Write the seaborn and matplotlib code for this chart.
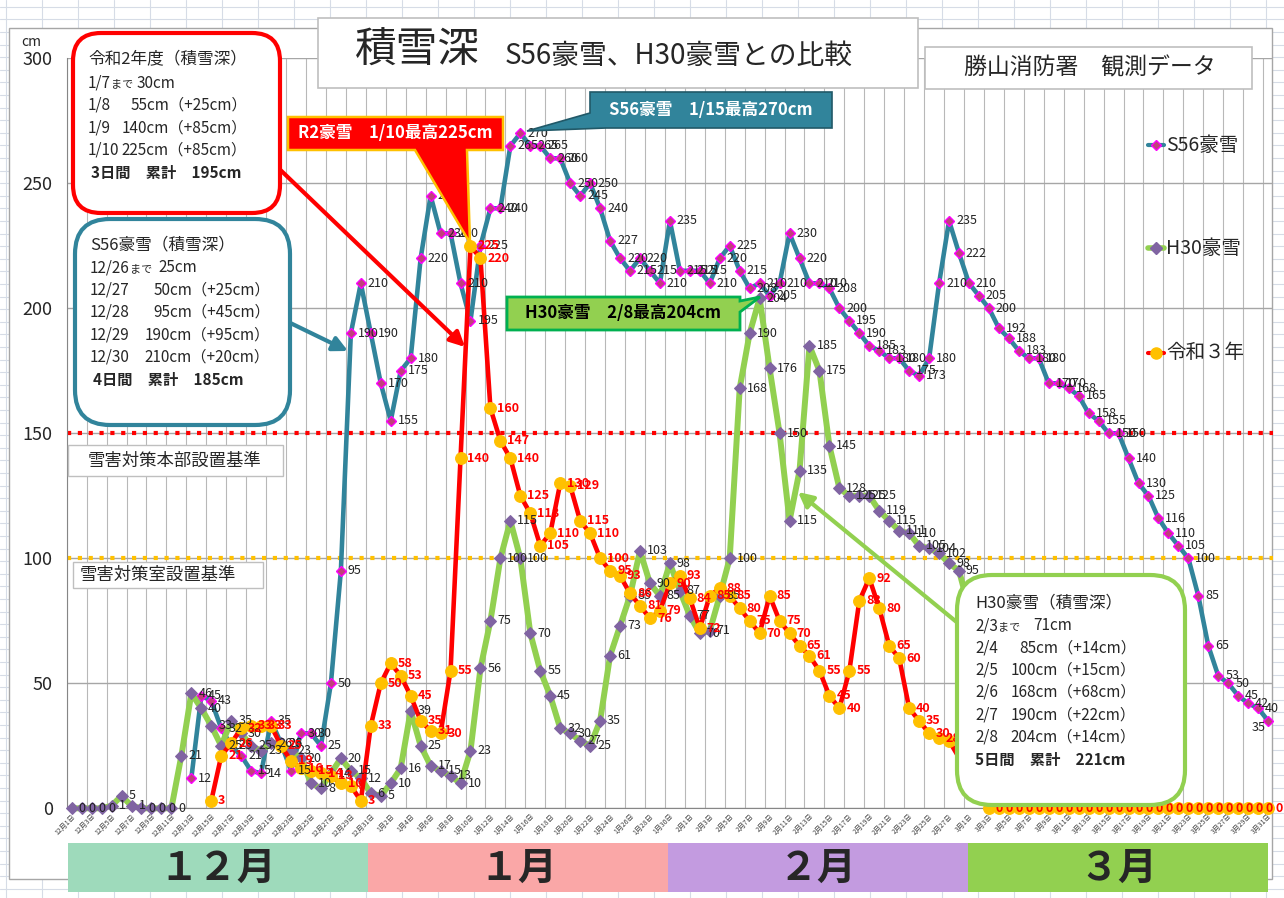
import numpy as np
import pandas as pd
import matplotlib
matplotlib.use("Agg")
import matplotlib.pyplot as plt
import seaborn as sns
from matplotlib.patches import Rectangle, FancyBboxPatch, Polygon

sns.set_style("white")
plt.rcParams['font.family'] = ['Noto Sans CJK JP', 'DejaVu Sans']

nan = np.nan

# ---------------- data ----------------
month_names = [12, 1, 2, 3]
month_days = [31, 31, 28, 31]

s56_dec = [nan] * 12 + [12, 45, 43, 32, 25, 21, 15, 14, 35, 26, 15, 30, 30, 25, 50, 95, 190, 210, 190]
s56_jan = [170, 155, 175, 180, 220, 245, 230, 230, 210, 195, 225, 240, 240, 265, 270, 265,
           265, 260, 260, 250, 245, 250, 240, 227, 220, 215, 220, 215, 210, 235, 215]
s56_feb = [215, 215, 210, 220, 225, 215, 208, 210, 205, 210, 230, 220, 210, 210, 208, 200,
           195, 190, 185, 183, 180, 180, 175, 173, 180, 210, 235, 222]
s56_mar = [210, 205, 200, 192, 188, 183, 180, 180, 170, 170, 168, 165, 158, 155, 150, 150,
           140, 130, 125, 116, 110, 105, 100, 85, 65, 53, 50, 45, 42, 40, 35]

h30_dec = [0, 0, 0, 0, 1, 5, 1, 0, 0, 0, 0, 21, 46, 40, 33, 25, 35, 30, 25, 23, 26, 26,
           23, 20, 10, 8, 14, 20, 15, 12, 6]
h30_jan = [5, 10, 16, 39, 25, 17, 15, 13, 10, 23, 56, 75, 100, 115, 100, 70, 55, 45, 32,
           30, 27, 25, 35, 61, 73, 85, 103, 90, 85, 98, 87]
h30_feb = [77, 70, 71, 85, 100, 168, 190, 204, 176, 150, 115, 135, 185, 175, 145, 128,
           125, 125, 125, 119, 115, 111, 110, 105, 104, 102, 98, 95]
h30_mar = [80] + [nan] * 30

r3_dec = [nan] * 14 + [3, 21, 26, 32, 33, 33, 33, 25, 19, 16, 15, 14, 13, 10, 9, 3, 33]
r3_jan = [50, 58, 53, 45, 35, 31, 30, 55, 140, 225, 220, 160, 147, 140, 125, 118, 105,
          110, 130, 129, 115, 110, 100, 95, 93, 86, 81, 76, 79, 90, 93]
r3_feb = [84, 72, 85, 88, 85, 80, 75, 70, 85, 75, 70, 65, 61, 55, 45, 40, 55, 83, 92, 80,
          65, 60, 40, 35, 30, 28, 27, nan]
r3_mar = [nan, nan] + [0] * 29

series_names = ["S56豪雪", "H30豪雪", "令和３年"]
band_labels = ["１２月", "１月", "２月", "３月"]
threshold_values = [150, 100]
threshold_labels = ["雪害対策本部設置基準", "雪害対策室設置基準"]

day_labels = []
for m, n in zip(month_names, month_days):
    for d in range(1, n + 1):
        day_labels.append(f"{m}月{d}日")

s56 = s56_dec + s56_jan + s56_feb + s56_mar
h30 = h30_dec + h30_jan + h30_feb + h30_mar
r3 = r3_dec + r3_jan + r3_feb + r3_mar
df = pd.DataFrame({"day": np.arange(len(day_labels)), "S56": s56, "H30": h30, "R3": r3})

# ---------------- figure ----------------
W, H = 1284, 898
fig = plt.figure(figsize=(W / 100, H / 100), dpi=100)

# spreadsheet background
bg = fig.add_axes([0, 0, 1, 1], zorder=0)
bg.set_xlim(0, W); bg.set_ylim(H, 0); bg.axis('off')
for x in np.arange(5.7, W, 36):
    bg.axvline(x, color='#d6dce6', lw=0.8, zorder=1)
for y in np.arange(6.7, H, 12.6):
    bg.axhline(y, color='#d6dce6', lw=0.8, zorder=1)
bg.add_patch(Rectangle((9, 28), 1263, 851, fc='white', ec='#a6a6a6', lw=1, zorder=5))

L, R, T, B = 66.7, 1273.1, 58.3, 808.3
ax = fig.add_axes([L / W, 1 - B / H, (R - L) / W, (B - T) / H], zorder=1)
ax.patch.set_alpha(0)

TEAL = '#31849b'
GREEN = '#92d050'

for v, c in zip(threshold_values, ['#ff0000', '#ffc000']):
    ax.axhline(v, color=c, lw=3.0, ls=(0, (1, 1.6)), zorder=2)

sns.lineplot(data=df, x="day", y="S56", ax=ax, color=TEAL, lw=3.3, marker='D',
             markersize=5.5, markerfacecolor='#c0407a', markeredgecolor='#ff00ff',
             markeredgewidth=1, errorbar=None, zorder=3, clip_on=False)
sns.lineplot(data=df, x="day", y="H30", ax=ax, color=GREEN, lw=4.3, marker='D',
             markersize=6, markerfacecolor='#8064a2', markeredgecolor='#8064a2',
             errorbar=None, zorder=4, clip_on=False)
sns.lineplot(data=df, x="day", y="R3", ax=ax, color='#ff0000', lw=3.3, marker='o',
             markersize=8.5, markerfacecolor='#ffc000', markeredgecolor='#ffc000',
             errorbar=None, zorder=5, clip_on=False)


def add_labels(col, color, weight, tuck_last=False):
    n = len(df)
    for i, v in zip(df["day"], df[col]):
        if not np.isnan(v):
            if tuck_last and i == n - 1:
                off, ha = (-2, -5), 'right'
            else:
                off, ha = (5, 0), 'left'
            ax.annotate(f"{int(v)}", (i, v), xytext=off, textcoords='offset points',
                        ha=ha, va='center', fontsize=9, color=color,
                        fontweight=weight, zorder=6, annotation_clip=False)


add_labels("S56", '#222222', 'normal', tuck_last=True)
add_labels("H30", '#222222', 'normal')
add_labels("R3", '#ff0000', 'bold')

ax.set_xlim(-0.5, len(day_labels) - 0.5)
ax.set_ylim(0, 300)
ax.set_yticks(range(0, 301, 50))
ax.set_xticks(range(0, len(day_labels), 2))
ax.set_xticklabels(day_labels[::2], rotation=45, ha='right', va='top',
                   rotation_mode='anchor', fontsize=5, color='#404040')
ax.set_xticks(np.arange(-0.5, len(day_labels), 2), minor=True)
ax.grid(axis='y', color='#a6a6a6', lw=1)
ax.grid(axis='x', which='minor', color='#b8b8b8', lw=0.8)
ax.set_axisbelow(True)
ax.tick_params(axis='x', which='both', length=0, pad=3)
ax.tick_params(axis='y', labelsize=13, length=4, color='#868686', pad=6)
ax.set_xlabel(""); ax.set_ylabel("")
for s in ['top', 'right']:
    ax.spines[s].set_visible(False)
for s in ['left', 'bottom']:
    ax.spines[s].set_color('#868686')

# ---------------- overlay annotations ----------------
ov = fig.add_axes([0, 0, 1, 1], zorder=3)
ov.set_xlim(0, W); ov.set_ylim(H, 0); ov.axis('off')

ov.text(31, 42, "cm", fontsize=10, ha='center', va='center')

# month bands
band_colors = ['#9edabb', '#faa7a7', '#c39be0', '#92d050']
for k, (lab, c) in enumerate(zip(band_labels, band_colors)):
    x0 = 68 + k * 300
    ov.add_patch(Rectangle((x0, 843), 300, 49, fc=c, ec='none'))
    ov.text(x0 + 150, 868, lab, fontsize=28, fontweight='bold', ha='center', va='center')

# title boxes
ov.add_patch(Rectangle((318, 18), 600, 70, fc='white', ec='#bfbfbf', lw=1.2))
ov.text(355, 51, "積雪深", fontsize=30, ha='left', va='center')
ov.text(505, 56, "S56豪雪、H30豪雪との比較", fontsize=20, ha='left', va='center')
ov.add_patch(Rectangle((925, 47), 327, 42, fc='white', ec='#bfbfbf', lw=1.2))
ov.text(1090, 68, "勝山消防署　観測データ", fontsize=16.5, ha='center', va='center')

# legend
leg = [(series_names[0], 145, TEAL, 'D', '#c0407a', '#ff00ff', 5, 3),
       (series_names[1], 248, GREEN, 'D', '#8064a2', '#8064a2', 6, 4),
       (series_names[2], 353, '#ff0000', 'o', '#ffc000', '#ffc000', 8, 3)]
for name, y, c, mk, mfc, mec, ms, lw in leg:
    ov.plot([1148, 1164], [y, y], color=c, lw=lw, solid_capstyle='round')
    ov.plot([1156], [y], marker=mk, ms=ms, mfc=mfc, mec=mec, ls='none')
    ov.text(1166, y, name, fontsize=14, ha='left', va='center')

# threshold label boxes
ov.add_patch(Rectangle((68, 445), 215, 31, fc='white', ec='#bfbfbf', lw=1))
ov.text(88, 461, threshold_labels[0], fontsize=12.5, ha='left', va='center')
ov.add_patch(Rectangle((73, 562), 190, 26, fc='white', ec='#bfbfbf', lw=1))
ov.text(80, 575, threshold_labels[1], fontsize=12.5, ha='left', va='center')

# arrows (under boxes)
def arrow(start, tip, color):
    ov.annotate('', xy=tip, xytext=start,
                arrowprops=dict(arrowstyle='-|>', color=color, lw=3, mutation_scale=22,
                                shrinkA=0, shrinkB=0))

arrow((270, 160), (465, 347), '#ff0000')
arrow((280, 318), (348, 351), TEAL)
arrow((970, 633), (798, 492), GREEN)

# rounded info boxes
def rbox(x, y, w, h, r, ec):
    ov.add_patch(FancyBboxPatch((x, y), w, h, boxstyle=f"round,pad=0,rounding_size={r}",
                                fc='white', ec=ec, lw=3, zorder=4))

rbox(73, 33, 207, 180, 28, '#ff0000')
rbox(75, 219, 215, 206, 35, TEAL)
rbox(957, 575, 228, 230, 35, GREEN)

FS = 11
def t(x, y, s, **kw):
    kw.setdefault('fontsize', FS)
    ov.text(x, y, s, va='center', zorder=5, **kw)

# red box (令和2年度)
t(88, 60, "令和2年度（積雪深）", fontsize=12)
t(88, 83, "1/7"); t(111, 84, "まで", fontsize=8); t(137, 83, "30cm")
t(88, 105, "1/8"); t(247, 105, "55cm（+25cm）", ha='right')
t(88, 128, "1/9"); t(247, 128, "140cm（+85cm）", ha='right')
t(88, 150, "1/10"); t(247, 150, "225cm（+85cm）", ha='right')
t(91, 173, "3日間　累計　195cm", fontweight='bold', fontsize=11)

# teal box (S56)
t(90, 245, "S56豪雪（積雪深）", fontsize=12)
t(90, 268, "12/26"); t(130, 269, "まで", fontsize=8); t(158, 268, "25cm")
t(90, 290, "12/27"); t(270, 290, "50cm（+25cm）", ha='right')
t(90, 312, "12/28"); t(270, 312, "95cm（+45cm）", ha='right')
t(90, 335, "12/29"); t(270, 335, "190cm（+95cm）", ha='right')
t(90, 357, "12/30"); t(270, 357, "210cm（+20cm）", ha='right')
t(93, 380, "4日間　累計　185cm", fontweight='bold', fontsize=11)

# green box (H30)
t(975, 603, "H30豪雪（積雪深）", fontsize=12)
t(975, 626, "2/3"); t(998, 627, "まで", fontsize=8); t(1033, 626, "71cm")
t(975, 648, "2/4"); t(1136, 648, "85cm（+14cm）", ha='right')
t(975, 670, "2/5"); t(1136, 670, "100cm（+15cm）", ha='right')
t(975, 692, "2/6"); t(1136, 692, "168cm（+68cm）", ha='right')
t(975, 715, "2/7"); t(1136, 715, "190cm（+22cm）", ha='right')
t(975, 737, "2/8"); t(1136, 737, "204cm（+14cm）", ha='right')
t(975, 760, "5日間　累計　221cm", fontweight='bold', fontsize=11)

# callouts
ov.add_patch(Polygon([(288, 117), (503, 117), (503, 150), (467, 150), (470, 243),
                      (415, 150), (288, 150)], closed=True, fc='#ff0000', ec='#ffc000',
                     lw=1.8, zorder=4))
ov.text(395, 133, "R2豪雪　1/10最高225cm", color='white', fontsize=12, fontweight='bold',
        ha='center', va='center', zorder=5)

ov.add_patch(Polygon([(590, 92), (832, 92), (832, 128), (606, 128), (527, 131),
                      (590, 113)], closed=True, fc=TEAL, ec='#215968', lw=1.2, zorder=4))
ov.text(711, 110, "S56豪雪　1/15最高270cm", color='white', fontsize=12, fontweight='bold',
        ha='center', va='center', zorder=5)

ov.add_patch(Polygon([(507, 297), (740, 297), (740, 301), (760, 297), (740, 312),
                      (740, 330), (507, 330)], closed=True, fc=GREEN, ec='#00b050',
                     lw=2, zorder=4))
ov.text(623, 313, "H30豪雪　2/8最高204cm", color='black', fontsize=12, fontweight='bold',
        ha='center', va='center', zorder=5)

fig.savefig("out.png", dpi=100)
